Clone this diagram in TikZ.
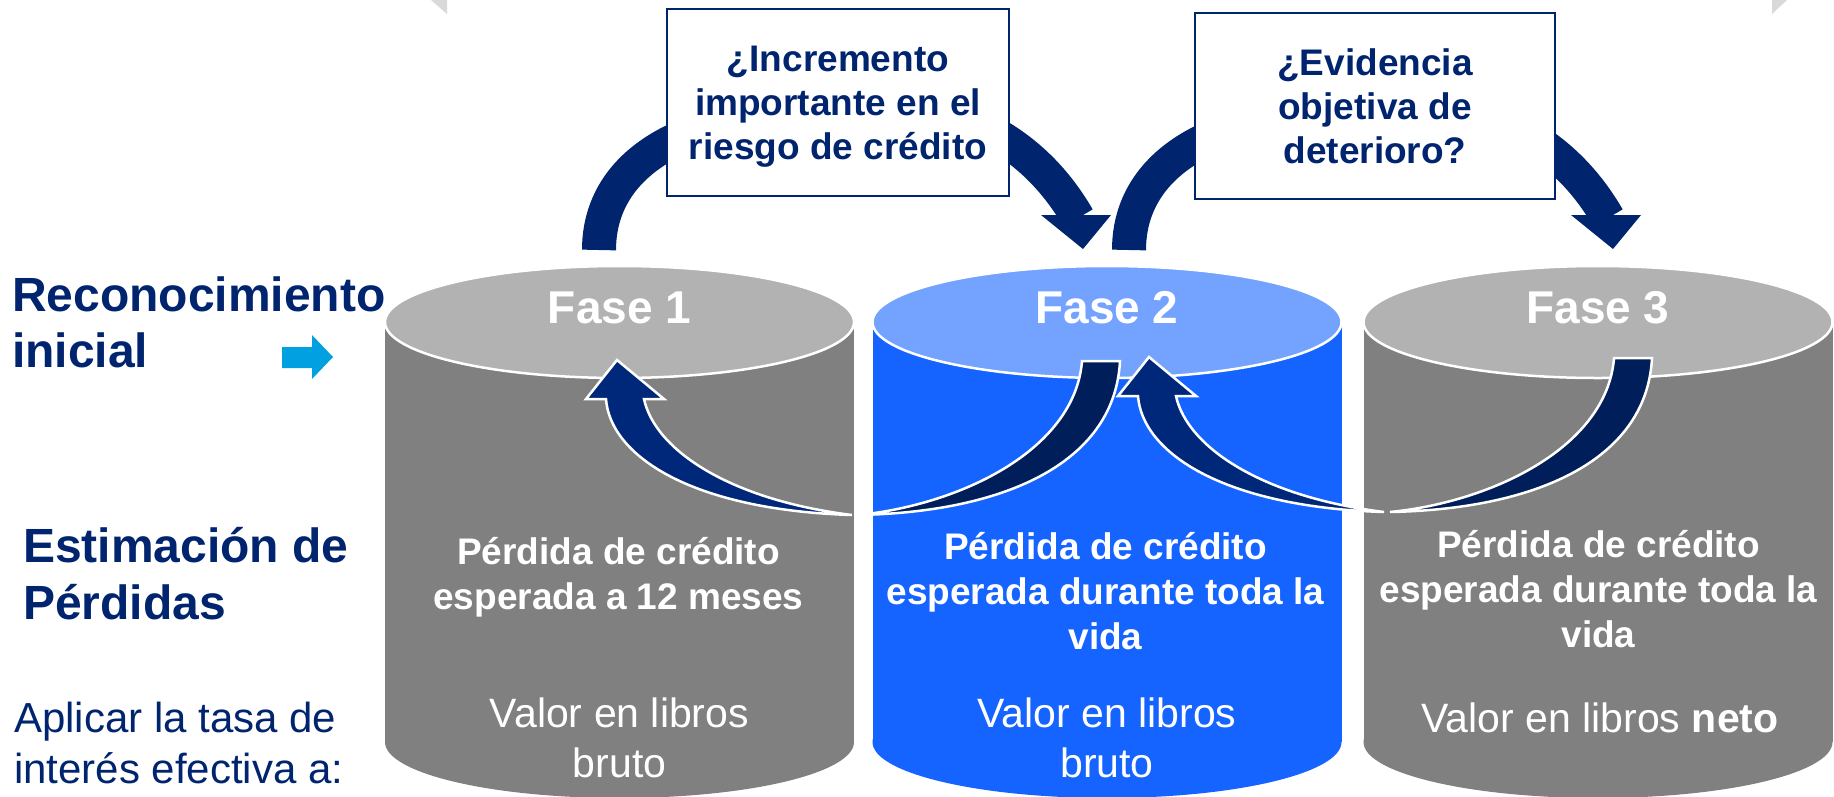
\documentclass[tikz,border=0pt]{standalone}
\usepackage{fontspec}
\setmainfont{Liberation Sans}
\usetikzlibrary{calc,arrows.meta,positioning}

\definecolor{navy}{RGB}{0,36,110}
\definecolor{navydark}{RGB}{0,30,90}
\definecolor{navylight}{RGB}{0,40,122}
\definecolor{grisbody}{RGB}{128,128,128}
\definecolor{gristop}{RGB}{178,178,178}
\definecolor{azulbody}{RGB}{22,100,255}
\definecolor{azultop}{RGB}{116,162,255}
\definecolor{cian}{RGB}{0,160,225}
\definecolor{gristri}{RGB}{217,217,217}

\tikzset{caja/.style={draw=navy,line width=2.5pt,fill=white}}
\tikzset{pregunta/.style={anchor=base,inner sep=0pt,align=center,text=navy,font=\fontsize{37}{44}\selectfont\bfseries}}
\tikzset{fase/.style={anchor=base,inner sep=0pt,text=white,font=\fontsize{46}{50}\selectfont\bfseries}}
\tikzset{perdida/.style={anchor=base,inner sep=0pt,align=center,text=white,font=\fontsize{37}{45}\selectfont\bfseries}}
\tikzset{valor/.style={anchor=base,inner sep=0pt,align=center,text=white,font=\fontsize{41}{50}\selectfont}}
\tikzset{etiqueta/.style={anchor=base west,inner sep=0pt,align=left,text=navy}}
\tikzset{flechaalta/.style={draw=navy,line width=34pt}}
\tikzset{flechabaja/.style={draw=white,line width=2.5pt,line join=miter}}

\begin{document}
\begin{tikzpicture}[x=1pt,y=-1pt]
	%%page
	\useasboundingbox (0,0) rectangle (1834,796);
	\clip (0,0) rectangle (1834,796);
	%%gray corners on top
	\fill [gristri] (431,0) -- (447,0) -- (447,14) -- cycle;
	\fill [gristri] (1772,0) -- (1787,0) -- (1772,14) -- cycle;
	
	%%upper arrows (behind the boxes)
	\foreach \dx/\k in {0/1, 530/2} {
		\begin{scope}[shift={(\dx,0)}]
			\coordinate (pie\k) at (599,250);
			\coordinate (codo\k) at (700,130);
			\coordinate (cima\k) at (850,100);
			\coordinate (base\k) at (1078,218);
			\draw [flechaalta] (pie\k) .. controls (599,190) and (640,150) .. (codo\k) .. controls (750,113) and (790,100) .. (cima\k) .. controls (950,100) and (1030,135) .. (base\k);
			\fill [navy] (1041,215) -- (1111,215) -- (1083,249) -- cycle;
		\end{scope}
	}
	%%question boxes
	\draw [caja] (667,9) rectangle (1009,196);
	\draw [caja] (1195,13) rectangle (1555,199);
	\node [pregunta] (incremento) at (838,159) {¿Incremento\\importante en el\\riesgo de crédito};
	\node [pregunta] (evidencia) at (1375,163) {¿Evidencia\\objetiva de\\deterioro?};
	
	%%cylinders
	\foreach \cx/\cuerpo/\tapa/\k in {619.5/grisbody/gristop/1, 1107/azulbody/azultop/2, 1598/grisbody/gristop/3} {
		\fill [\cuerpo] (\cx-234.5,322) rectangle (\cx+234.5,742);
		\fill [\cuerpo] (\cx,742) ellipse [x radius=234.5, y radius=56];
		\filldraw [fill=\tapa,draw=white,line width=2.5pt] (\cx,322) ellipse [x radius=234.5, y radius=56];
		\node [fase] (fase\k) at (\cx,323) {Fase \k};
	}
	
	%%lower arrows going back
	\foreach \dx/\dy in {0/0, 532/-3} {
		\begin{scope}[shift={(\dx,\dy)}]
			\filldraw [flechabaja,fill=navydark] (1082,361) -- (1120,361) .. controls (1115,460) and (1010,512) .. (858,515) .. controls (960,505) and (1075,450) .. (1082,361) -- cycle;
			\filldraw [flechabaja,fill=navylight] (664,399) -- (617,360) -- (586,399) -- (606,399) .. controls (610,455) and (690,510) .. (852,515) .. controls (730,500) and (655,450) .. (644,399) -- cycle;
		\end{scope}
	}
	
	%%texts inside cylinders (base = last line)
	\node [perdida] (perdida1) at (618.5,609) {Pérdida de crédito\\esperada a 12 meses};
	\node [perdida] (perdida2) at (1105.5,649) {Pérdida de crédito\\esperada durante toda la\\vida};
	\node [perdida] (perdida3) at (1598.5,647) {Pérdida de crédito\\esperada durante toda la\\vida};
	\node [valor] (valor1) at (619.5,777) {Valor en libros\\bruto};
	\node [valor] (valor2) at (1107,777) {Valor en libros\\bruto};
	\node [valor] (valor3) at (1600,732) {Valor en libros \textbf{neto}};
	
	%%left labels
	\node [etiqueta,font=\fontsize{48}{56}\selectfont\bfseries] (reconocimiento) at (12,367) {Reconocimiento\\inicial};
	\node [etiqueta,font=\fontsize{48}{57}\selectfont\bfseries] (estimacion) at (23,619) {Estimación de\\Pérdidas};
	\node [etiqueta,font=\fontsize{42}{51}\selectfont] (aplicar) at (14,783) {Aplicar la tasa de\\interés efectiva a:};
	%%small arrow
	\fill [cian] (282,347) -- (312,347) -- (312,335) -- (333,357) -- (312,379) -- (312,368) -- (282,368) -- cycle;
\end{tikzpicture}
\end{document}
